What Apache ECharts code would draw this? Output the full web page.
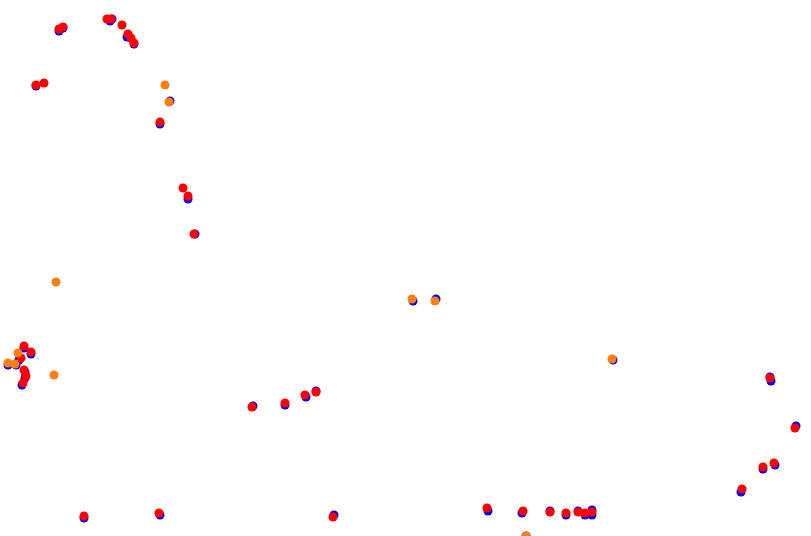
<!DOCTYPE html>
<html><head><meta charset="utf-8">
<script src="https://cdn.jsdelivr.net/npm/echarts@6/dist/echarts.min.js"></script>
<style>html,body{margin:0;padding:0;background:#fff}#c{width:811px;height:536px}</style>
</head><body><div id="c"></div>
<script>
const bluePoints = [[59,31],[63,28],[110,21],[112,19],[127,37],[134,44],[36,86],[170,101],[160,124],[188,199],[195,234],[24,348],[31,354],[19,360],[8,365],[16,365],[25,372],[25,378],[22,385],[253,406],[285,405],[306,397],[316,391],[334,515],[413,301],[436,299],[613,360],[488,511],[522,513],[550,511],[566,515],[578,511],[585,515],[592,510],[592,515],[526,536],[770,377],[771,381],[796,426],[763,469],[775,465],[741,492],[84,518],[160,515]];
const redPoints = [[59,29],[63,27],[107,19],[111,19],[122,25],[128,34],[131,38],[134,43],[36,85],[44,83],[160,122],[183,188],[188,196],[194,234],[24,346],[31,352],[21,358],[24,370],[26,376],[23,383],[252,407],[285,403],[305,395],[316,392],[333,517],[487,508],[523,511],[550,512],[566,513],[578,512],[585,513],[592,512],[770,378],[795,428],[763,467],[774,463],[742,489],[84,516],[159,513]];
const orangePoints = [[165,85],[169,102],[56,282],[18,353],[8,363],[15,364],[54,375],[412,299],[435,301],[612,359],[526,536]];

const chart = echarts.init(document.getElementById('c'));
const mk = (name, data, color) => ({
  name, type: 'scatter', data, symbolSize: 9, itemStyle: {color, opacity: 1}, clip: true, animation: false
});
chart.setOption({
  animation: false,
  grid: {left: 0, right: 0, top: 0, bottom: 0},
  xAxis: {type: 'value', min: 0, max: 811, show: false},
  yAxis: {type: 'value', min: 0, max: 536, inverse: true, show: false},
  series: [mk('blue', bluePoints, '#0000ff'), mk('red', redPoints, '#ff0000'), mk('orange', orangePoints, '#ff7f0e')]
});
</script></body></html>
